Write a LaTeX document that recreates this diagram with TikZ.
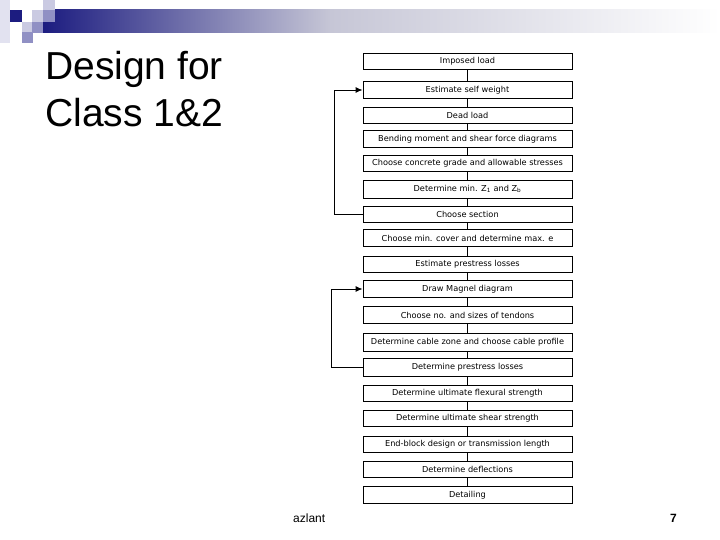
\documentclass[tikz,border=0pt]{standalone}
\usepackage{fontspec}
\setmainfont{Liberation Sans}
\newfontfamily\boxfont{DejaVu Sans}
\usepackage{tikz}
\usetikzlibrary{arrows.meta}

\definecolor{slidenavy}{HTML}{1C1C80}
\definecolor{slidemid}{HTML}{9090C4}
\definecolor{slidelight}{HTML}{CACAE2}
\definecolor{slidepale}{HTML}{E2E2F0}
\definecolor{barfade}{HTML}{C6C6D6}

\tikzset{
  stepbox/.style={draw, line width=0.9pt, minimum width=209pt, minimum height=16.5pt,
    inner sep=0pt, font=\boxfont\fontsize{8.2}{10}\selectfont},
  link/.style={line width=0.9pt},
  loopback/.style={line width=0.9pt, -{Latex[length=7pt,width=6pt]}},
}

\begin{document}
\begin{tikzpicture}[x=1pt, y=-1pt]
\useasboundingbox (0,0) rectangle (720,540);

% slide decoration
\fill[slidepale] (0,0) rectangle (10,43);
\shade[left color=slidenavy, right color=barfade] (43,10) rectangle (330,33);
\shade[left color=barfade, right color=white] (330,10) rectangle (720,33);
\fill[slidenavy] (10,10) rectangle (22,22);
\fill[slidelight] (32,10) rectangle (43,22);
\fill[slidelight] (43,0) rectangle (55,10);
\fill[slidemid] (43,10) rectangle (55,22);
\fill[slidelight] (22,22) rectangle (32,32);
\fill[slidemid] (32,22) rectangle (43,33);
\fill[slidemid] (22,32) rectangle (33,43);

% title and footer
\node[anchor=base west, inner sep=0pt, font=\fontsize{39}{47}\selectfont] (title1) at (45,80) {Design for};
\node[anchor=base west, inner sep=0pt, font=\fontsize{39}{47}\selectfont] (title2) at (45,127) {Class 1\&2};
\node[anchor=base west, inner sep=0pt, font=\fontsize{12}{14}\selectfont] (foot) at (293,522) {azlant};
\node[anchor=base west, inner sep=0pt, font=\fontsize{12}{14}\selectfont\bfseries] (page) at (670,522) {7};

% flow chart boxes
\node[stepbox] (b1) at (467.5,61.5) {Imposed load};
\node[stepbox] (b2) at (467.5,90) {Estimate self weight};
\node[stepbox] (b3) at (467.5,115.5) {Dead load};
\node[stepbox] (b4) at (467.5,139) {Bending moment and shear force diagrams};
\node[stepbox] (b5) at (467.5,163.5) {Choose concrete grade and allowable stresses};
\node[stepbox, minimum height=18pt] (b6) at (467.5,189) {Determine min. Z\textsubscript{1} and Z\textsubscript{b}};
\node[stepbox] (b7) at (467.5,214.5) {Choose section};
\node[stepbox] (b8) at (467.5,238) {Choose min. cover and determine max. e};
\node[stepbox] (b9) at (467.5,264.5) {Estimate prestress losses};
\node[stepbox] (b10) at (467.5,289) {Draw Magnel diagram};
\node[stepbox] (b11) at (467.5,315) {Choose no. and sizes of tendons};
\node[stepbox, minimum height=18pt] (b12) at (467.5,342.5) {Determine cable zone and choose cable profile};
\node[stepbox, minimum height=18pt] (b13) at (467.5,367.5) {Determine prestress losses};
\node[stepbox] (b14) at (467.5,393.5) {Determine ultimate flexural strength};
\node[stepbox] (b15) at (467.5,418.5) {Determine ultimate shear strength};
\node[stepbox] (b16) at (467.5,444.5) {End-block design or transmission length};
\node[stepbox] (b17) at (467.5,469.5) {Determine deflections};
\node[stepbox] (b18) at (467.5,495) {Detailing};

% links between boxes
\draw[link] (b1) -- (b2);
\draw[link] (b2) -- (b3);
\draw[link] (b3) -- (b4);
\draw[link] (b4) -- (b5);
\draw[link] (b5) -- (b6);
\draw[link] (b6) -- (b7);
\draw[link] (b7) -- (b8);
\draw[link] (b8) -- (b9);
\draw[link] (b9) -- (b10);
\draw[link] (b10) -- (b11);
\draw[link] (b11) -- (b12);
\draw[link] (b12) -- (b13);
\draw[link] (b13) -- (b14);
\draw[link] (b14) -- (b15);
\draw[link] (b15) -- (b16);
\draw[link] (b16) -- (b17);
\draw[link] (b17) -- (b18);

% feedback loops
\draw[loopback] (b7.west) -- ++(-28,0) |- (b2.west);
\draw[loopback] (b13.west) -- ++(-31,0) |- (b10.west);

\end{tikzpicture}
\end{document}
